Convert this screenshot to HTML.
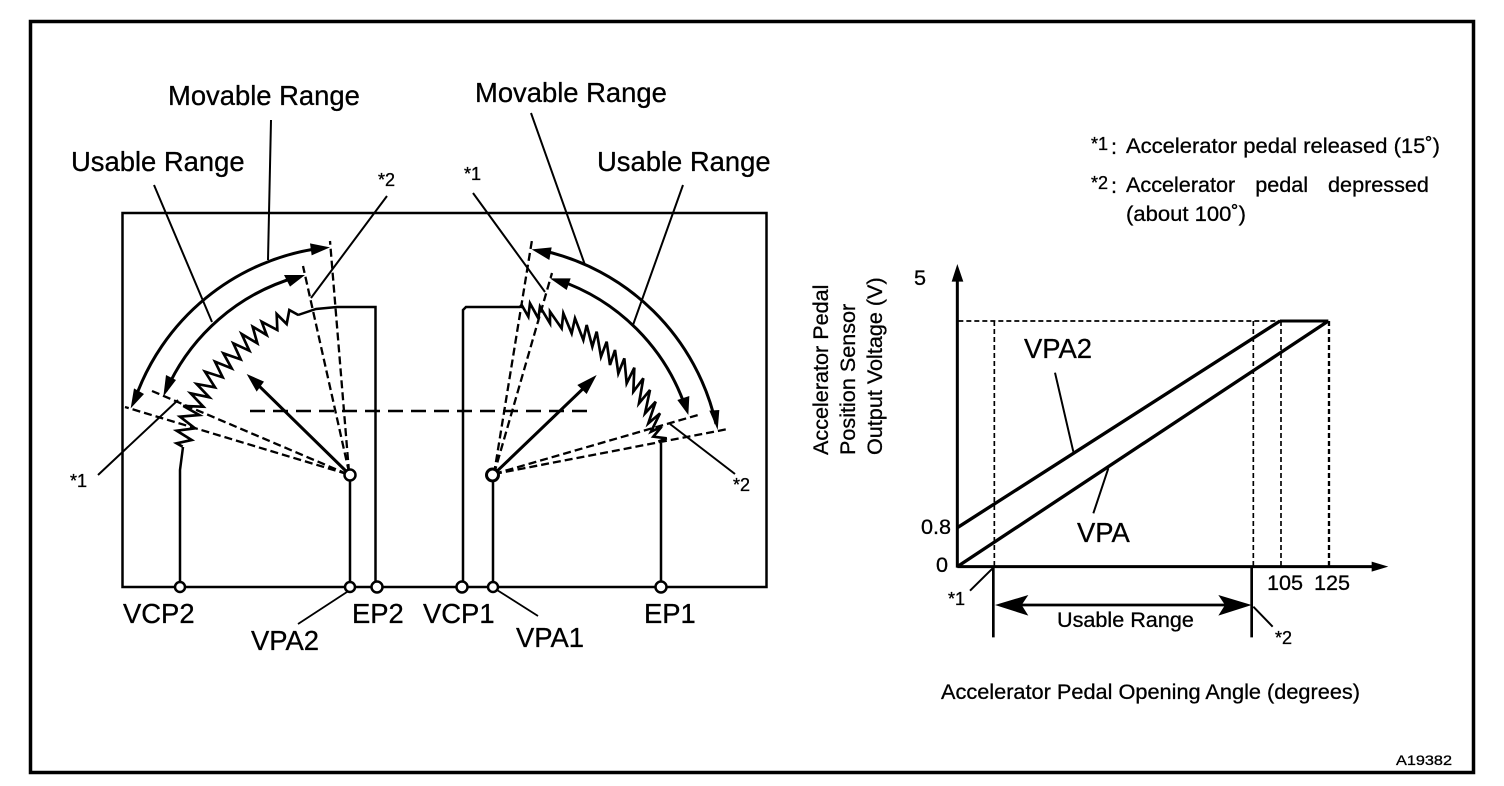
<!DOCTYPE html>
<html><head><meta charset="utf-8"><style>
html,body{margin:0;padding:0;background:#fff}
svg{display:block}
text{font-family:"Liberation Sans",sans-serif;fill:#000;stroke:#000;stroke-width:.3px}
</style></head><body>
<svg width="1504" height="786" viewBox="0 0 1504 786" xmlns="http://www.w3.org/2000/svg">
<rect width="1504" height="786" fill="#fff"/>
<rect x="30.5" y="21.5" width="1443" height="751" fill="none" stroke="#000" stroke-width="3.5"/>
<rect x="122.5" y="213" width="644" height="374" fill="none" stroke="#000" stroke-width="2.5"/>

<g fill="none" stroke="#000">
<!-- wires -->
<path d="M180 587V470L183 447M350 587V475M375.500 587V307H337L316 309L298 315M463 587V310L466 307H520M661 587V443M493 587V475" stroke-width="2.500"/>
<path d="M350 590L298 624M497 590L538 616" stroke-width="1.800"/>
<!-- leaders left -->
<path d="M271 120L268 260M154 185L212 322M387 196L311 298M98 475L178 400" stroke-width="2"/>
<!-- leaders right -->
<path d="M531 113L585 265M683 185L633 325M473 193L545 292M735 474L670 424" stroke-width="2"/>
<!-- arcs -->
<path d="M322 248A229 229 0 0 0 134 402M297 277A204 204 0 0 0 166 391M540 250A229 229 0 0 1 716 424M558 280A204 204 0 0 1 686 409" stroke-width="3"/>
<!-- center arrows and dashed -->
<path d="M350 475L254 381M493 475L590 382" stroke-width="3"/>
<path d="M250 411H588" stroke-width="2.500" stroke-dasharray="15 8"/>
<path d="M347 474L125 407M347 474L152 391M349 472L330 241M349 472L303 266M494 474L532 240M494 474L552 273M494 474L728 429M494 474L698 415" stroke-width="2.300" stroke-dasharray="8 4"/>
</g>
<!-- arrow heads, zoomed coordinates -->
<g transform="translate(60,170) scale(.33333)">
<path d="M810 232L750 220L755 256ZM212 715L222 655L252 672ZM735 315L672 315L690 350ZM310 680L318 615L348 630ZM560 612L612 635L590 665Z"/>
</g>
<g transform="translate(440,170) scale(.33333)">
<path d="M275 238L335 232L328 270ZM330 325L392 325L380 360ZM833 780L808 722L838 720ZM745 735L712 690L748 678ZM470 615L412 645L440 672Z"/>
</g>
<!-- zigzags -->
<g transform="translate(170,300) scale(.33333)">
<path fill="none" stroke="#000" stroke-width="8" d="M38 440L20 430L65 420L20 392L75 385L30 350L88 345L40 318L100 320L62 280L118 292L80 252L135 262L105 215L158 232L135 185L185 205L160 160L212 178L190 130L238 152L215 102L262 130L248 80L290 105L275 65L322 90L320 42L350 72L358 30L385 45"/>
</g>
<g transform="translate(515,295) scale(.33333)">
<path fill="none" stroke="#000" stroke-width="8" d="M15 36L20 30L40 65L45 25L70 70L75 35L105 85L105 50L140 100L145 55L170 115L180 70L205 135L215 90L232 155L245 110L258 185L275 140L285 210L300 165L310 235L328 190L335 265L358 218L355 290L385 250L372 325L405 285L390 355L422 320L400 385L435 355L408 410L440 395L415 425L455 430L430 440"/>
</g>
<!-- nodes -->
<g fill="#fff" stroke="#000" stroke-width="2.500">
<circle cx="350" cy="475" r="5.500"/>
<circle cx="492.500" cy="475" r="6" stroke-width="3"/>
<circle cx="180" cy="587" r="5"/><circle cx="350" cy="587" r="5"/>
<circle cx="377" cy="587" r="5.500"/><circle cx="462" cy="587" r="5.500"/>
<circle cx="493" cy="587" r="5"/><circle cx="661" cy="587" r="5.500"/>
</g>
<!-- chart -->
<g transform="translate(900,250) scale(.33333)">
<g fill="none" stroke="#000">
<path d="M172 953V90M172 950H1420" stroke-width="9"/>
<path d="M1140 213H1285" stroke-width="9"/>
<path d="M172 833L1140 213M172 950L1285 213" stroke-width="10"/>
<path d="M175 213H1140M283 213V950M1060 213V950M1143 213V950" stroke-width="5" stroke-dasharray="15 9"/>
<path d="M1287 213V950" stroke-width="7" stroke-dasharray="15 9"/>
<path d="M465 368L520 605M580 790L625 655M210 1022L278 955M1060 1070L1118 1130" stroke-width="6"/>
<path d="M280 950V1162M1055 950V1162" stroke-width="8"/>
<path d="M340 1065H1000" stroke-width="8"/>
</g>
<path d="M172 42L155 95H190ZM1465 950L1415 935V965ZM285 1065L385 1035L365 1065L385 1097ZM1055 1065L955 1035L975 1065L955 1097Z"/>
</g>

<!-- labels -->
<g font-size="27.400">
<text x="168" y="105">Movable Range</text>
<text x="475" y="102">Movable Range</text>
<text x="71" y="171">Usable Range</text>
<text x="597" y="171">Usable Range</text>
<text x="123" y="623">VCP2</text>
<text x="251" y="650">VPA2</text>
<text x="352" y="623">EP2</text>
<text x="423" y="623">VCP1</text>
<text x="516" y="647">VPA1</text>
<text x="644" y="623">EP1</text>
<text x="1024" y="358">VPA2</text>
<text x="1077" y="542">VPA</text>
</g>
<g font-size="18">
<text x="378" y="186">*2</text>
<text x="464" y="180">*1</text>
<text x="70" y="487">*1</text>
<text x="733" y="491">*2</text>
<text x="948" y="605">*1</text>
<text x="1275" y="644">*2</text>
<text x="1091" y="150">*1</text>
<text x="1091" y="189">*2</text>
</g>
<g font-size="21.600">
<text x="1111" y="154">:</text>
<text x="1111" y="193">:</text>
<text x="1126" y="153" textLength="314" lengthAdjust="spacingAndGlyphs">Accelerator pedal released (15˚)</text>
<text x="1126" y="192" word-spacing="14">Accelerator pedal depressed</text>
<text x="1126" y="221" textLength="120" lengthAdjust="spacingAndGlyphs">(about 100˚)</text>
<text x="914" y="285">5</text>
<text x="921" y="534">0.8</text>
<text x="936" y="572">0</text>
<text x="1267" y="590">105</text>
<text x="1314" y="590">125</text>
<text x="1057" y="627">Usable Range</text>
<text x="941" y="699" textLength="419" lengthAdjust="spacingAndGlyphs">Accelerator Pedal Opening Angle (degrees)</text>
<text transform="translate(828,455) rotate(-90)">Accelerator Pedal</text>
<text transform="translate(855,455) rotate(-90)">Position Sensor</text>
<text transform="translate(882,455) rotate(-90)">Output Voltage (V)</text>
</g>
<text x="1396" y="765" font-size="14" textLength="56" lengthAdjust="spacingAndGlyphs">A19382</text>
</svg>
</body></html>
